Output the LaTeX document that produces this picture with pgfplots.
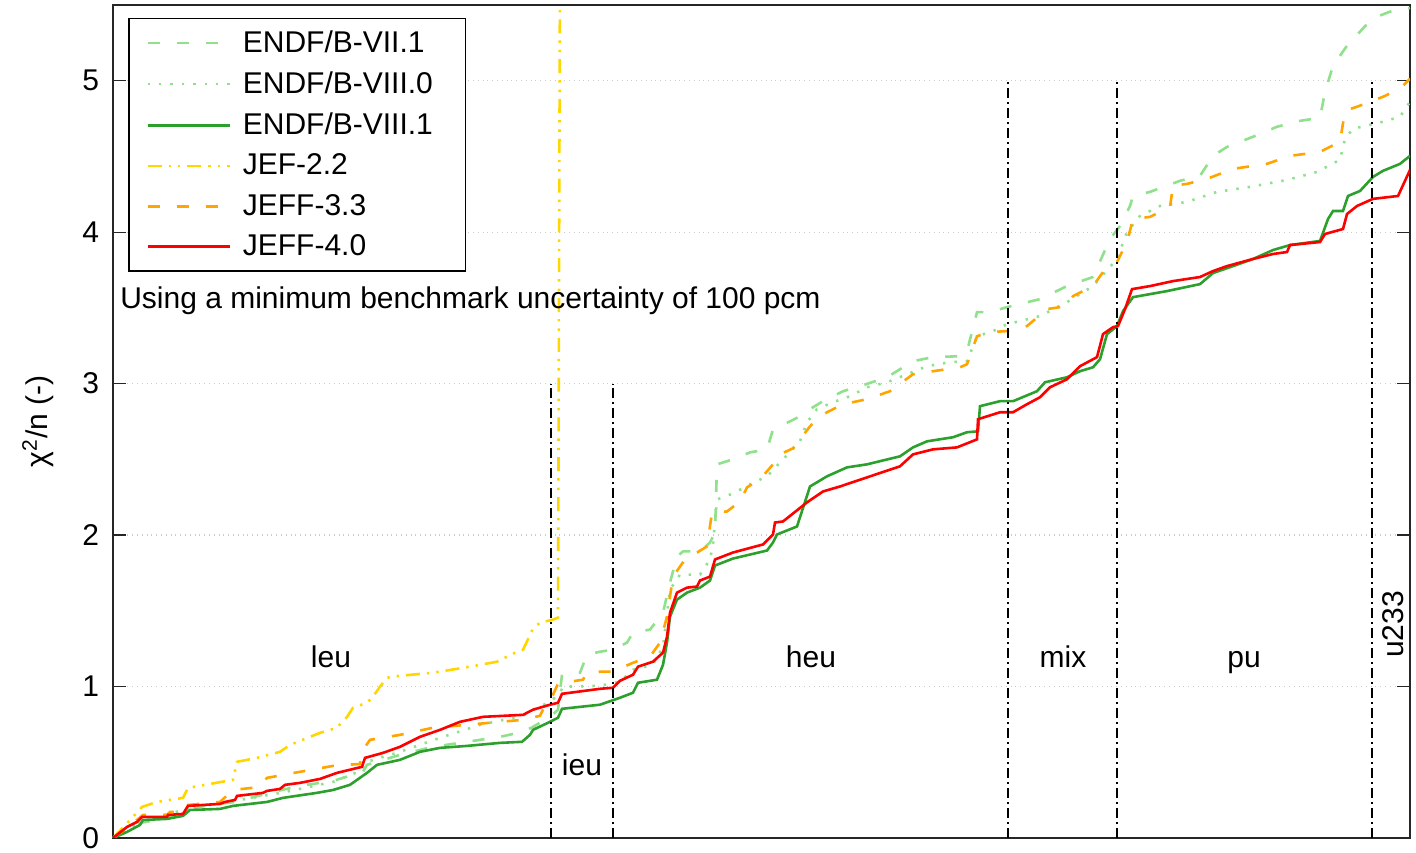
\documentclass[border=0pt]{standalone}
\usepackage{fontspec}
\setmainfont{Liberation Sans}
\usepackage{pgfplots}
\pgfplotsset{compat=1.18}
\definecolor{cLG}{RGB}{144,225,140}
\definecolor{cG}{RGB}{44,160,44}
\definecolor{cGold}{RGB}{255,215,0}
\definecolor{cOr}{RGB}{255,165,0}
\definecolor{cRed}{RGB}{255,0,0}
\newcommand{\fs}{\fontsize{15}{18}\selectfont}
\begin{document}
\begin{tikzpicture}
\begin{axis}[
  name=ax,
  scale only axis,
  width=648.5pt, height=416.5pt,
  xmin=113, xmax=1410, ymin=0, ymax=5.5,
  xtick=\empty,
  ytick={0,1,2,3,4,5},
  tick align=inside,
  ytick pos=both,
  major tick length=6.5pt,
  ymajorgrids,
  grid style={gray!40, dotted, line width=0.6pt},
  axis line style={line width=0.6pt, black!85},
  every tick/.style={black!85, line width=0.6pt},
  tick label style={font=\fs},
  /pgf/number format/assume math mode=true,
  yticklabel style={xshift=-3pt},
  every axis y label/.style={at={(axis description cs:-0.058,0.5)},rotate=90,anchor=center,font=\fs},
  ylabel={χ\textsuperscript{2}/n (-)},
  legend style={name=leg, at={(axis description cs:0.0123,0.984)}, anchor=north west, draw=none, fill=white, font=\fs, inner xsep=8pt, inner ysep=3.5pt, row sep=4.2pt},
  legend cell align=left,
  legend image code/.code={\draw[#1, line width=1.3pt] (0pt,0pt) -- (41pt,0pt); \path (45pt,0pt);},
  line width=1.3pt,
]
\addplot[cLG, dash pattern=on 6pt off 8.5pt] table {
113 0
127 0.053
140 0.099
167 0.132
190 0.198
235 0.238
273 0.304
300 0.344
333 0.377
363 0.437
367 0.483
400 0.549
433 0.602
467 0.635
500 0.668
523 0.701
533 0.734
550 0.800
558 0.847
562 1.078
580 1.091
587 1.210
600 1.230
613 1.243
627 1.290
633 1.356
650 1.376
663 1.488
670 1.687
677 1.858
683 1.892
700 1.892
710 1.951
715 2.017
717 2.467
733 2.500
750 2.546
767 2.566
773 2.698
790 2.751
800 2.784
813 2.844
823 2.884
843 2.950
860 2.983
887 3.042
913 3.148
933 3.175
960 3.181
967 3.214
977 3.472
990 3.472
1007 3.505
1040 3.558
1067 3.644
1093 3.704
1110 3.955
1120 4.041
1130 4.173
1133 4.239
1150 4.266
1180 4.339
1200 4.372
1213 4.504
1227 4.563
1253 4.630
1277 4.696
1300 4.735
1320 4.755
1325 4.927
1333 5.099
1347 5.231
1360 5.324
1372 5.410
1390 5.456
1410 5.480
};
\addlegendentry{ENDF/B-VII.1}
\addplot[cLG, dash pattern=on 1.2pt off 4.5pt] table {
113 0
140 0.106
190 0.198
235 0.245
285 0.304
333 0.370
363 0.450
367 0.503
400 0.569
440 0.661
480 0.747
523 0.807
533 0.847
550 0.899
560 0.959
563 0.999
600 1.005
620 1.032
633 1.111
653 1.144
663 1.263
670 1.640
680 1.739
700 1.739
710 1.839
713 1.938
717 2.235
733 2.275
750 2.335
767 2.388
783 2.500
800 2.619
807 2.745
817 2.831
833 2.877
850 2.917
867 2.976
887 3.009
907 3.062
927 3.115
950 3.142
967 3.148
977 3.313
993 3.347
1007 3.393
1020 3.413
1040 3.446
1067 3.538
1093 3.644
1117 3.823
1127 4.001
1140 4.107
1160 4.173
1187 4.200
1217 4.266
1250 4.299
1287 4.345
1317 4.398
1340 4.478
1345 4.616
1353 4.683
1383 4.729
1400 4.762
1410 4.861
};
\addlegendentry{ENDF/B-VIII.0\kern5.5pt}
\addplot[cG] table {
113 0
127 0.040
140 0.086
143 0.119
167 0.126
183 0.146
190 0.185
220 0.192
233 0.212
267 0.238
283 0.265
317 0.298
333 0.317
350 0.351
367 0.430
377 0.483
400 0.516
420 0.569
440 0.595
467 0.608
500 0.628
522 0.635
530 0.681
533 0.714
550 0.767
558 0.794
562 0.853
600 0.880
620 0.926
633 0.959
638 1.025
657 1.045
663 1.144
667 1.290
670 1.462
677 1.574
687 1.620
700 1.653
710 1.700
715 1.799
733 1.845
767 1.898
773 1.951
777 2.004
797 2.057
810 2.321
827 2.388
847 2.447
867 2.467
900 2.520
913 2.579
927 2.619
953 2.646
967 2.679
978 2.685
980 2.851
1000 2.884
1013 2.884
1037 2.950
1045 3.009
1067 3.042
1080 3.082
1093 3.108
1100 3.161
1107 3.327
1117 3.380
1123 3.479
1133 3.571
1167 3.611
1200 3.657
1213 3.730
1233 3.776
1253 3.823
1273 3.882
1290 3.915
1320 3.942
1328 4.087
1333 4.140
1343 4.140
1348 4.239
1360 4.272
1373 4.365
1383 4.405
1400 4.451
1410 4.504
};
\addlegendentry{ENDF/B-VIII.1}
\addplot[cGold, dash pattern=on 7pt off 3.5pt on 1.2pt off 3.5pt on 1.2pt off 3.5pt] table {
113 0
133 0.139
142 0.205
157 0.238
183 0.265
188 0.331
233 0.384
237 0.503
257 0.529
280 0.569
290 0.615
320 0.694
337 0.728
347 0.800
353 0.860
367 0.893
373 0.933
380 0.999
387 1.058
400 1.071
433 1.091
470 1.131
497 1.164
513 1.217
523 1.243
533 1.382
540 1.422
553 1.442
558 1.455
561 8.0
};
\addlegendentry{JEF-2.2}
\addplot[cOr, dash pattern=on 6pt off 8.5pt] table {
113 0
127 0.066
143 0.152
167 0.152
170 0.172
183 0.172
188 0.218
220 0.238
233 0.317
260 0.337
267 0.397
300 0.437
333 0.476
360 0.489
363 0.582
370 0.648
400 0.681
433 0.728
467 0.747
500 0.767
523 0.780
540 0.807
547 0.899
553 0.946
558 1.019
563 1.025
583 1.045
587 1.091
600 1.098
613 1.098
633 1.157
650 1.197
660 1.290
667 1.462
673 1.726
687 1.858
697 1.885
707 1.925
712 2.149
727 2.156
740 2.222
747 2.315
760 2.368
773 2.467
780 2.533
793 2.573
800 2.632
810 2.718
817 2.765
827 2.811
843 2.864
867 2.897
890 2.950
913 3.062
933 3.082
960 3.108
967 3.128
977 3.313
990 3.340
1007 3.347
1027 3.380
1047 3.492
1067 3.512
1073 3.578
1093 3.644
1103 3.737
1117 3.803
1127 3.935
1133 4.087
1150 4.101
1170 4.167
1173 4.306
1187 4.319
1207 4.352
1233 4.418
1267 4.451
1290 4.504
1320 4.530
1340 4.597
1345 4.802
1357 4.828
1383 4.894
1400 4.947
1410 5.013
};
\addlegendentry{JEFF-3.3}
\addplot[cRed] table {
113 0
127 0.073
137 0.106
142 0.139
167 0.139
168 0.152
183 0.159
188 0.212
220 0.225
225 0.238
235 0.251
237 0.278
263 0.298
267 0.311
280 0.324
285 0.351
300 0.364
320 0.390
337 0.430
362 0.470
365 0.529
383 0.562
400 0.602
420 0.668
440 0.714
460 0.767
483 0.800
523 0.813
533 0.847
550 0.880
558 0.893
562 0.952
600 0.985
613 0.992
620 1.038
633 1.078
638 1.131
653 1.164
663 1.224
667 1.329
670 1.488
677 1.620
687 1.653
697 1.660
700 1.700
710 1.726
715 1.839
733 1.885
763 1.938
773 2.004
775 2.083
783 2.090
807 2.216
823 2.288
840 2.321
867 2.381
900 2.454
913 2.533
933 2.566
957 2.579
977 2.632
978 2.765
1000 2.811
1013 2.811
1027 2.864
1040 2.910
1050 2.976
1067 3.029
1080 3.115
1097 3.175
1103 3.327
1113 3.373
1118 3.380
1125 3.492
1132 3.624
1150 3.644
1173 3.677
1200 3.704
1213 3.743
1227 3.776
1253 3.823
1273 3.856
1287 3.869
1290 3.915
1320 3.935
1325 3.988
1343 4.021
1347 4.120
1357 4.173
1373 4.220
1398 4.239
1410 4.411
};
\addlegendentry{JEFF-4.0}
% category separators
\addplot[black, line width=0.6pt, dash pattern=on 5pt off 2pt on 1pt off 2pt, forget plot] coordinates {(551,0) (551,3)};
\addplot[black, line width=0.6pt, dash pattern=on 5pt off 2pt on 1pt off 2pt, forget plot] coordinates {(613,0) (613,3)};
\addplot[black, line width=0.6pt, dash pattern=on 5pt off 2pt on 1pt off 2pt, forget plot] coordinates {(1008,0) (1008,5)};
\addplot[black, line width=0.6pt, dash pattern=on 5pt off 2pt on 1pt off 2pt, forget plot] coordinates {(1117,0) (1117,5)};
\addplot[black, line width=0.6pt, dash pattern=on 5pt off 2pt on 1pt off 2pt, forget plot] coordinates {(1372,0) (1372,5)};
\node[font=\fs, anchor=base] at (axis cs:331,1.125) {leu};
\node[font=\fs, anchor=base] at (axis cs:582,0.415) {ieu};
\node[font=\fs, anchor=base] at (axis cs:811,1.125) {heu};
\node[font=\fs, anchor=base] at (axis cs:1063,1.125) {mix};
\node[font=\fs, anchor=base] at (axis cs:1244,1.125) {pu};
\node[font=\fs, rotate=90] at (axis cs:1393,1.41) {u233};
\node[font=\fs, anchor=west, inner sep=0pt] at (axis cs:119,3.55) {Using a minimum benchmark uncertainty of 100 pcm};
\end{axis}
\draw[line width=0.6pt, black] (leg.south west) rectangle (leg.north east);
\pgfresetboundingbox
\path[use as bounding box] ([xshift=-56.5pt,yshift=-7.5pt]ax.south west) rectangle ([xshift=3pt,yshift=2.5pt]ax.north east);
\end{tikzpicture}
\end{document}
